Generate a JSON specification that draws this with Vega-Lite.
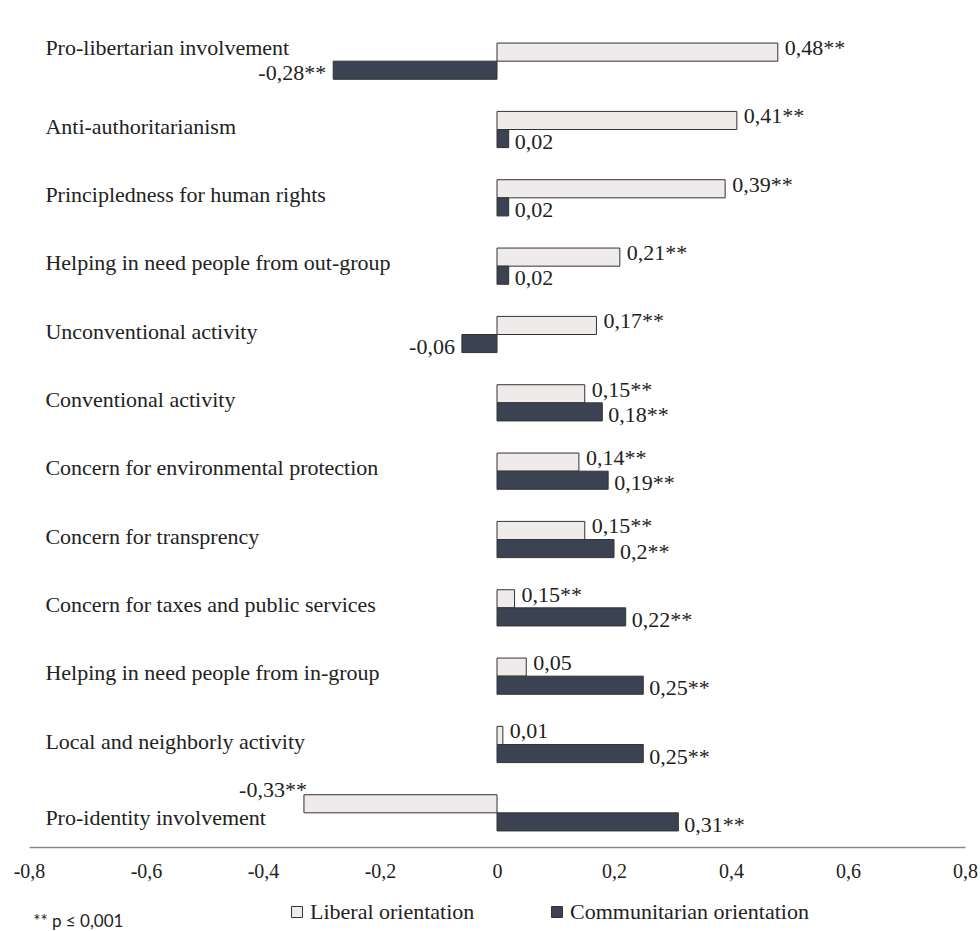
{
  "$schema": "https://vega.github.io/schema/vega-lite/v6.json",
  "width": 936,
  "height": 820,
  "autosize": "none",
  "padding": {"left": 29, "top": 27, "right": 15, "bottom": 84},
  "background": "white",
  "title": {
    "text": "** p ≤ 0,001",
    "orient": "bottom",
    "anchor": "start",
    "font": "Lato",
    "fontSize": 17,
    "fontWeight": "normal",
    "color": "#222",
    "baseline": "middle",
    "offset": 0,
    "dx": 20,
    "dy": -1
  },
  "config": {
    "view": {"stroke": null},
    "font": "Liberation Serif"
  },
  "data": {
    "values": [
      {"category": "Pro-libertarian involvement", "series": "Liberal orientation", "value": 0.48, "label": "0,48**"},
      {"category": "Pro-libertarian involvement", "series": "Communitarian orientation", "value": -0.28, "label": "-0,28**"},
      {"category": "Anti-authoritarianism", "series": "Liberal orientation", "value": 0.41, "label": "0,41**"},
      {"category": "Anti-authoritarianism", "series": "Communitarian orientation", "value": 0.02, "label": "0,02"},
      {"category": "Principledness for human rights", "series": "Liberal orientation", "value": 0.39, "label": "0,39**"},
      {"category": "Principledness for human rights", "series": "Communitarian orientation", "value": 0.02, "label": "0,02"},
      {"category": "Helping in need people from out-group", "series": "Liberal orientation", "value": 0.21, "label": "0,21**"},
      {"category": "Helping in need people from out-group", "series": "Communitarian orientation", "value": 0.02, "label": "0,02"},
      {"category": "Unconventional activity", "series": "Liberal orientation", "value": 0.17, "label": "0,17**"},
      {"category": "Unconventional activity", "series": "Communitarian orientation", "value": -0.06, "label": "-0,06"},
      {"category": "Conventional activity", "series": "Liberal orientation", "value": 0.15, "label": "0,15**"},
      {"category": "Conventional activity", "series": "Communitarian orientation", "value": 0.18, "label": "0,18**"},
      {"category": "Concern for environmental protection", "series": "Liberal orientation", "value": 0.14, "label": "0,14**"},
      {"category": "Concern for environmental protection", "series": "Communitarian orientation", "value": 0.19, "label": "0,19**"},
      {"category": "Concern for transprency", "series": "Liberal orientation", "value": 0.15, "label": "0,15**"},
      {"category": "Concern for transprency", "series": "Communitarian orientation", "value": 0.2, "label": "0,2**"},
      {"category": "Concern for taxes and public services", "series": "Liberal orientation", "value": 0.03, "label": "0,15**"},
      {"category": "Concern for taxes and public services", "series": "Communitarian orientation", "value": 0.22, "label": "0,22**"},
      {"category": "Helping in need people from in-group", "series": "Liberal orientation", "value": 0.05, "label": "0,05"},
      {"category": "Helping in need people from in-group", "series": "Communitarian orientation", "value": 0.25, "label": "0,25**"},
      {"category": "Local and neighborly activity", "series": "Liberal orientation", "value": 0.01, "label": "0,01"},
      {"category": "Local and neighborly activity", "series": "Communitarian orientation", "value": 0.25, "label": "0,25**"},
      {"category": "Pro-identity involvement", "series": "Liberal orientation", "value": -0.33, "label": "-0,33**"},
      {"category": "Pro-identity involvement", "series": "Communitarian orientation", "value": 0.31, "label": "0,31**"}
    ]
  },
  "encoding": {
    "y": {
      "field": "category",
      "type": "nominal",
      "sort": null,
      "axis": null,
      "scale": {"paddingInner": 0.47, "paddingOuter": 0.235}
    }
  },
  "layer": [
    {
      "mark": {"type": "bar", "stroke": "#333333", "strokeWidth": 1},
      "encoding": {
        "x": {
          "field": "value",
          "type": "quantitative",
          "scale": {"domain": [-0.8, 0.8], "nice": false, "zero": false},
          "axis": {
            "title": null,
            "values": [-0.8, -0.6, -0.4, -0.2, 0, 0.2, 0.4, 0.6, 0.8],
            "labelExpr": "replace(replace(format(datum.value, '.1~f'), '.', ','), '−', '-')",
            "grid": false,
            "ticks": false,
            "domainColor": "#8a8a8a",
            "domainWidth": 1.5,
            "labelFont": "Liberation Serif",
            "labelFontSize": 20,
            "labelColor": "#222",
            "labelPadding": 14,
            "labelFlush": false
          }
        },
        "yOffset": {
          "field": "series",
          "type": "nominal",
          "sort": ["Liberal orientation", "Communitarian orientation"],
          "scale": {"paddingInner": 0, "paddingOuter": 0}
        },
        "fill": {
          "field": "series",
          "type": "nominal",
          "sort": ["Liberal orientation", "Communitarian orientation"],
          "scale": {
            "domain": ["Liberal orientation", "Communitarian orientation"],
            "range": ["#eeebea", "#3b4252"]
          },
          "legend": {
            "title": null,
            "orient": "none",
            "direction": "horizontal",
            "legendX": 257,
            "legendY": 874,
            "symbolType": "square",
            "symbolSize": 121,
            "symbolStrokeColor": "#333",
            "symbolStrokeWidth": 1,
            "labelFont": "Liberation Serif",
            "labelFontSize": 22,
            "labelColor": "#222",
            "labelOffset": 2,
            "labelLimit": 0,
            "columnPadding": 71
          }
        }
      }
    },
    {
      "mark": {"type": "rule", "color": "#555555", "strokeWidth": 1.5},
      "encoding": {
        "x": {"datum": 0}
      }
    },
    {
      "transform": [{"filter": "datum.series === 'Liberal orientation'"}],
      "mark": {
        "type": "text",
        "font": "Liberation Serif",
        "fontSize": 22,
        "color": "#222",
        "baseline": "middle",
        "align": {"expr": "datum.value < 0 ? 'right' : 'left'"},
        "dx": {"expr": "datum.value < 0 ? 3 : 7"},
        "dy": {"expr": "datum.value < 0 ? -14 : -4"}
      },
      "encoding": {
        "x": {"field": "value", "type": "quantitative"},
        "yOffset": {
          "field": "series",
          "type": "nominal",
          "sort": ["Liberal orientation", "Communitarian orientation"]
        },
        "text": {"field": "label"}
      }
    },
    {
      "transform": [{"filter": "datum.series === 'Communitarian orientation'"}],
      "mark": {
        "type": "text",
        "font": "Liberation Serif",
        "fontSize": 22,
        "color": "#222",
        "baseline": "middle",
        "align": {"expr": "datum.value < 0 ? 'right' : 'left'"},
        "dx": {"expr": "datum.value < 0 ? -7 : 6"},
        "dy": 3
      },
      "encoding": {
        "x": {"field": "value", "type": "quantitative"},
        "yOffset": {
          "field": "series",
          "type": "nominal",
          "sort": ["Liberal orientation", "Communitarian orientation"]
        },
        "text": {"field": "label"}
      }
    },
    {
      "transform": [{"filter": "datum.series === 'Liberal orientation'"}],
      "mark": {
        "type": "text",
        "font": "Liberation Serif",
        "fontSize": 22,
        "color": "#222",
        "baseline": "middle",
        "align": "left",
        "dy": {"expr": "datum.category === 'Pro-libertarian involvement' ? -13 : datum.category === 'Pro-identity involvement' ? 5 : -3"}
      },
      "encoding": {
        "x": {"datum": -0.772},
        "text": {"field": "category"}
      }
    }
  ]
}
